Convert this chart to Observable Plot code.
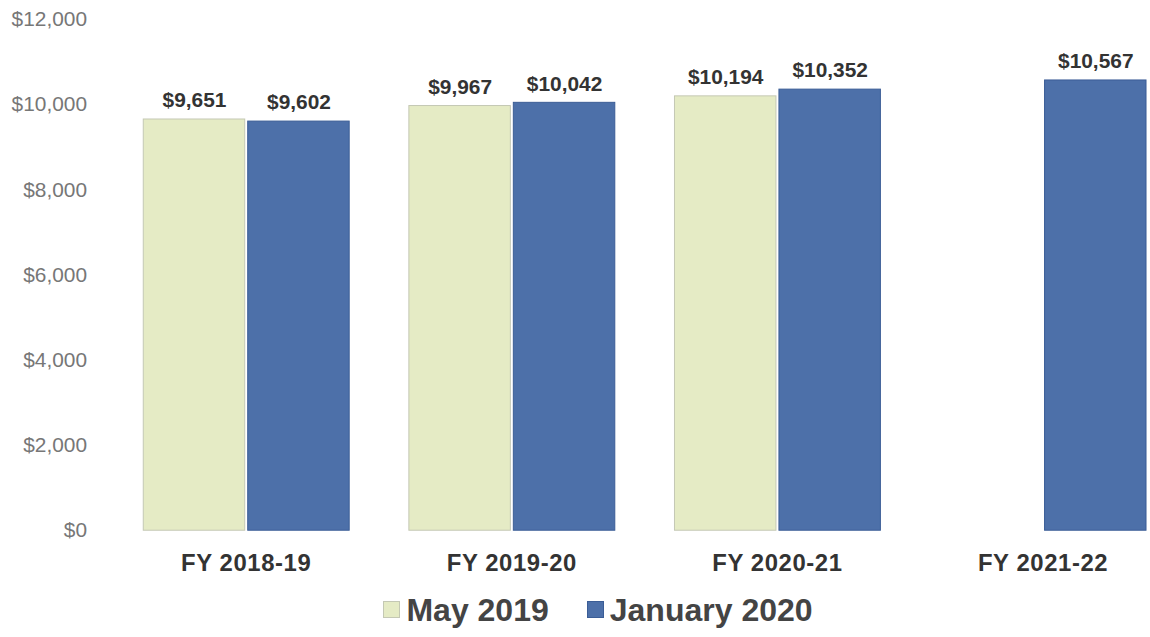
<!DOCTYPE html>
<html>
<head>
<meta charset="utf-8">
<script src="https://cdn.jsdelivr.net/npm/d3@7"></script>
<script src="https://cdn.jsdelivr.net/npm/@observablehq/plot@0.6"></script>
<style>
  html, body { margin: 0; padding: 0; background: #fff; overflow: hidden; }
  body { font-family: "Liberation Sans", Arial, sans-serif; width: 1150px; height: 637px; }
  #chart svg { display: block; }
  .fxlab text { letter-spacing: 0.6px; }
  #legend { display: flex; justify-content: center; align-items: center; padding-left: 46px; margin-top: 12px;
            font-family: "Liberation Sans", Arial, sans-serif; font-weight: bold; font-size: 32px; color: #444; line-height: 1; }
  .item { display: flex; align-items: center; margin: 0 19px; }
  .sw { width: 17px; height: 17px; margin-right: 6px; box-sizing: border-box; }
</style>
</head>
<body>
<div id="chart"></div>
<div id="legend"></div>
<script>
const fiscalYears = ["FY 2018-19", "FY 2019-20", "FY 2020-21", "FY 2021-22"];
const seriesNames = ["May 2019", "January 2020"];
const may2019 = [9651, 9967, 10194, null];
const jan2020 = [9602, 10042, 10352, 10567];
const yTicks = [0, 2000, 4000, 6000, 8000, 10000, 12000];
const fillColors = ["#e5ebc5", "#4d70a9"];
const edgeColors = ["#c4c8b4", "#3b5d96"];

const rows = [];
fiscalYears.forEach((fy, i) => {
  if (may2019[i] != null) rows.push({year: fy, series: seriesNames[0], value: may2019[i]});
  if (jan2020[i] != null) rows.push({year: fy, series: seriesNames[1], value: jan2020[i]});
});

const money = d => "$" + d3.format(",")(d);

const chart = Plot.plot({
  width: 1156,
  height: 585,
  marginLeft: 138,
  marginRight: 0,
  marginTop: 19,
  marginBottom: 52,
  style: {fontFamily: "'Liberation Sans', Arial, sans-serif", background: "#fff"},
  fx: {domain: fiscalYears, paddingInner: 0.2, paddingOuter: 0, label: null, axis: null},
  x: {domain: seriesNames, padding: 0.03, axis: null},
  y: {domain: [0, 12000], axis: null},
  color: {domain: seriesNames, range: fillColors},
  marks: [
    Plot.axisY({ticks: yTicks, tickFormat: money, tickSize: 0, tickPadding: 53, fontSize: 21, fill: "#777", label: null}),
    Plot.axisFx({anchor: "bottom", tickSize: 0, tickPadding: 23, fontSize: 24, fontWeight: "bold", fill: "#333", label: null, className: "fxlab"}),
    Plot.barY(rows, {
      fx: "year", x: "series", y: "value", fill: "series",
      stroke: d => edgeColors[seriesNames.indexOf(d.series)], strokeWidth: 1
    }),
    Plot.text(rows, {
      fx: "year", x: "series", y: "value", text: d => money(d.value),
      dy: -19, fontSize: 21, fontWeight: "bold", fill: "#333"
    })
  ]
});
document.getElementById("chart").appendChild(chart);

const legend = document.getElementById("legend");
seriesNames.forEach((s, i) => {
  const item = document.createElement("div");
  item.className = "item";
  const sw = document.createElement("span");
  sw.className = "sw";
  sw.style.background = fillColors[i];
  sw.style.border = "1px solid " + edgeColors[i];
  const t = document.createElement("span");
  t.textContent = s;
  item.appendChild(sw);
  item.appendChild(t);
  legend.appendChild(item);
});
</script>
</body>
</html>
